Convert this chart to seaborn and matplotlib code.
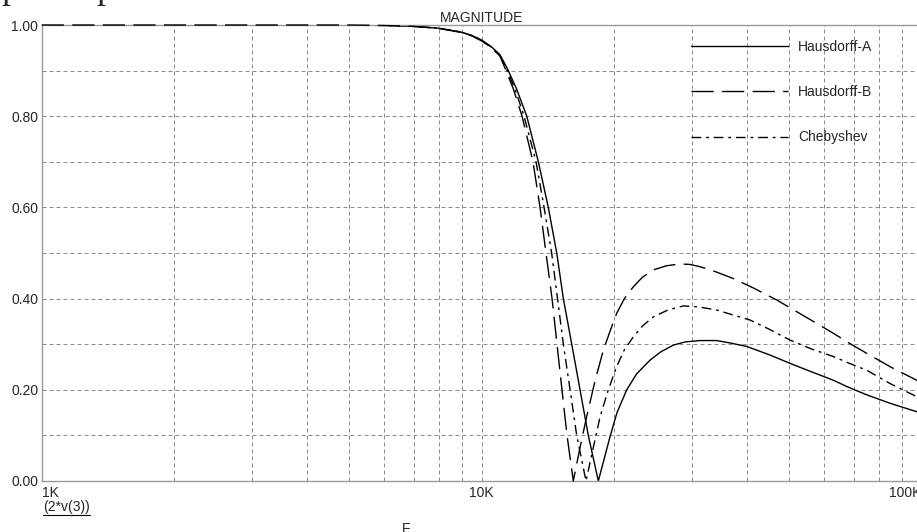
import numpy as np
import pandas as pd
import matplotlib
matplotlib.use("Agg")
import matplotlib.pyplot as plt
from matplotlib.lines import Line2D
from matplotlib.ticker import MultipleLocator, LogLocator, NullFormatter
import seaborn as sns

# ------------------ data ------------------
freq_a = [1000, 2000, 5000, 6000, 6980, 7960, 8930, 9500, 10000, 10500, 11000,
          11430, 12000, 12660, 13450, 14170, 14810, 15330, 16020, 16730, 17470,
          18410, 19000, 19570, 20300, 21360, 22500, 24130, 25500, 27260, 29000,
          31340, 34200, 37000, 40040, 45000, 50200, 56000, 62970, 68000, 74990,
          85000, 97410, 100000]
mag_a = [1.0, 1.0, 1.0, 0.999, 0.997, 0.993, 0.985, 0.977, 0.967, 0.953, 0.935,
         0.905, 0.86, 0.80, 0.70, 0.60, 0.50, 0.40, 0.30, 0.20, 0.10,
         0.0, 0.05, 0.097, 0.15, 0.20, 0.235, 0.265, 0.283, 0.298, 0.305,
         0.308, 0.308, 0.302, 0.295, 0.277, 0.258, 0.240, 0.221, 0.206, 0.189,
         0.170, 0.152, 0.148]

freq_b = [1000, 2000, 5000, 6000, 6980, 7960, 8930, 9500, 10000, 10500, 11000,
          11300, 11800, 12350, 13080, 13570, 14000, 14450, 14830, 15220, 15630,
          16150, 16700, 17320, 18100, 18900, 19600, 20270, 21100, 22110, 23200,
          24550, 26300, 28230, 29700, 31340, 34000, 37310, 41500, 46830, 54000,
          62970, 68500, 74990, 85000, 97410, 100000]
mag_b = [1.0, 1.0, 1.0, 0.999, 0.997, 0.993, 0.984, 0.976, 0.965, 0.951, 0.932,
         0.905, 0.86, 0.80, 0.70, 0.60, 0.50, 0.40, 0.30, 0.20, 0.10,
         0.0, 0.07, 0.141, 0.22, 0.287, 0.33, 0.368, 0.40, 0.426, 0.447,
         0.463, 0.472, 0.476, 0.475, 0.470, 0.459, 0.444, 0.423, 0.397, 0.362,
         0.324, 0.302, 0.280, 0.250, 0.221, 0.217]

freq_c = [1000, 2000, 5000, 6000, 6980, 7960, 8930, 9500, 10000, 10500, 11000,
          11360, 11900, 12480, 13290, 13860, 14420, 14870, 15330, 15880, 16440,
          17260, 17900, 18580, 19400, 20270, 21100, 22110, 23200, 24550, 26500,
          28720, 31000, 34200, 37000, 40730, 45000, 50200, 56000, 62970, 68500,
          74990, 85000, 97410, 100000]
mag_c = [1.0, 1.0, 1.0, 0.999, 0.997, 0.993, 0.985, 0.977, 0.966, 0.952, 0.933,
         0.905, 0.86, 0.80, 0.70, 0.60, 0.50, 0.40, 0.30, 0.20, 0.10,
         0.0, 0.07, 0.141, 0.20, 0.251, 0.288, 0.316, 0.340, 0.360, 0.375,
         0.384, 0.382, 0.375, 0.365, 0.353, 0.333, 0.309, 0.290, 0.273, 0.258,
         0.243, 0.213, 0.185, 0.182]

series_names = ["Hausdorff-A", "Hausdorff-B", "Chebyshev"]
x_ticks = [1e3, 1e4, 1e5]
x_tick_labels = ["1K", "10K", "100K"]
y_ticks = [0.0, 0.2, 0.4, 0.6, 0.8, 1.0]

sns.set_style("white")
plt.rcParams['font.family'] = ['Liberation Sans', 'DejaVu Sans']
plt.rcParams['font.size'] = 10

W, H = 917, 532
fig = plt.figure(figsize=(W / 100, H / 100), dpi=100)
# axes runs from 1K to 100K; the right part is cut by the image edge
ax = fig.add_axes([41.7 / W, 1 - 481 / H, 880 / W, 456 / H])

styles = ["-", (0, (16, 6)), (0, (7, 3.5, 2, 3.5))]
# dashed B sits on top of the frame at 1.00, like the reference
zorders = [2, 3, 2]
clips = [True, False, True]
for name, fx, my, ls, z, cl in zip(series_names, [freq_a, freq_b, freq_c],
                                   [mag_a, mag_b, mag_c], styles, zorders, clips):
    df = pd.DataFrame({"F": fx, "mag": my})
    sns.lineplot(data=df, x="F", y="mag", ax=ax, color="black",
                 linewidth=1.0, linestyle=ls, label=name,
                 zorder=z, clip_on=cl)

ax.set_xscale("log")
ax.set_xlim(1e3, 1e5)
ax.set_ylim(0, 1.0)

# ------------------ grid ------------------
ax.xaxis.set_minor_locator(LogLocator(base=10, subs=np.arange(2, 10)))
ax.xaxis.set_minor_formatter(NullFormatter())
ax.yaxis.set_minor_locator(MultipleLocator(0.1))
ax.grid(True, which="both", color="#8c8c8c", linestyle=(0, (4, 3)), linewidth=0.72)
ax.set_axisbelow(True)

ax.set_xticks(x_ticks)
ax.set_xticklabels(x_tick_labels)
ax.set_yticks(y_ticks)
ax.set_yticklabels([f"{v:.2f}" for v in y_ticks])
ax.tick_params(which="both", length=0)
ax.tick_params(axis="x", pad=3.5)
ax.tick_params(axis="y", pad=2.5)
xl = ax.get_xticklabels()
xl[0].set_horizontalalignment("left")
xl[-1].set_horizontalalignment("right")

for sp in ax.spines.values():
    sp.set_color("#9a9a9a")
    sp.set_linewidth(1.0)

ax.set_xlabel("")
ax.set_ylabel("")
ax.set_title("MAGNITUDE", fontsize=10, pad=2.5)

leg = ax.legend(loc="upper left", bbox_to_anchor=(690.7 / W, 1 - 40 / H),
                bbox_transform=fig.transFigure, frameon=False, borderpad=0,
                borderaxespad=0, handlelength=7.0, handletextpad=0.75,
                labelspacing=2.25, fontsize=10)

# ------------------ bottom texts ------------------
t = fig.text(43 / W, 1 - 500 / H, "(2*v(3))", fontsize=10, va="top", ha="left")
fig.text(406 / W, 1 - 522 / H, "F", fontsize=10, va="top", ha="center")
fig.canvas.draw()
bb = t.get_window_extent(fig.canvas.get_renderer())
fig.add_artist(Line2D([bb.x0 / W, bb.x1 / W], [(bb.y0 - 1) / H] * 2,
                      transform=fig.transFigure, color="black", linewidth=0.8))

# clipped text from above the crop
for xp in [1.5, 96.5]:
    fig.text(xp / W, 1 + 2 / H, "p", fontsize=26, family="Liberation Serif",
             va="baseline", ha="left")

fig.savefig("out.png", dpi=100)
